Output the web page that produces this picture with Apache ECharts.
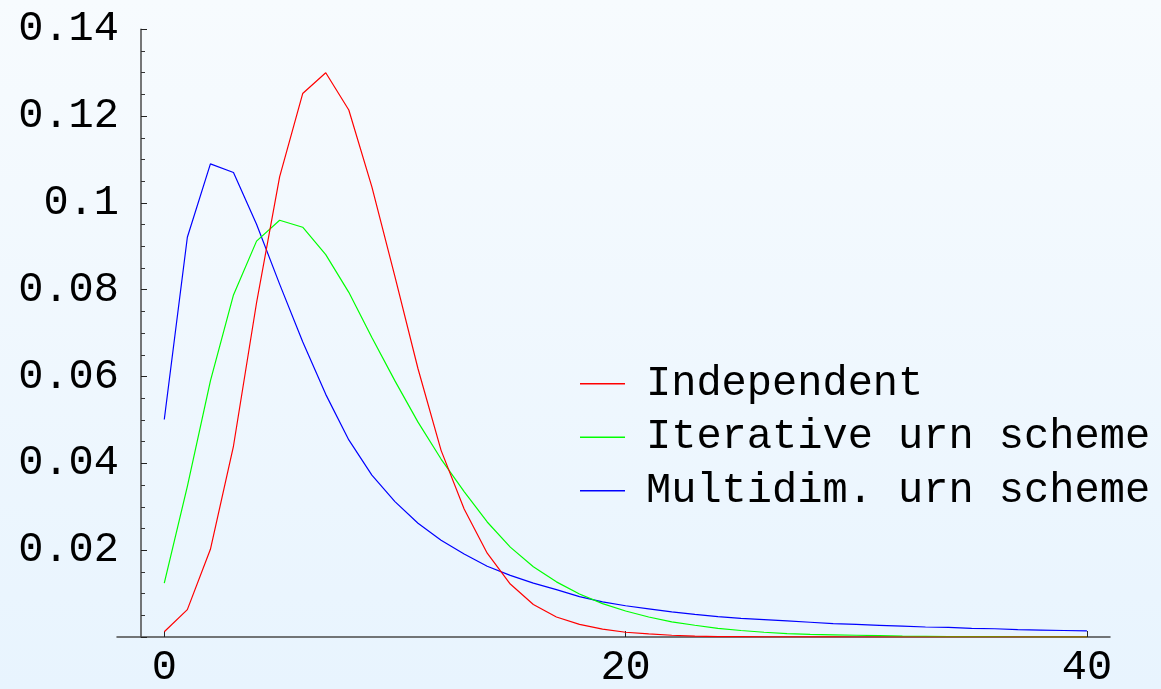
<!DOCTYPE html>
<html>
<head>
<meta charset="utf-8">
<title>Distribution comparison</title>
<script src="https://cdn.jsdelivr.net/npm/echarts@6/dist/echarts.min.js"></script>
<style>
  html, body { margin: 0; padding: 0; }
  #chart { width: 1161px; height: 689px; }
</style>
</head>
<body>
<div id="chart"></div>
<script>
// x positions 0..40
const xs = Array.from({ length: 41 }, (_, i) => i);

// Independent
const independent = [
  0.0012, 0.0063, 0.0202, 0.044, 0.077, 0.106, 0.1252, 0.130, 0.1214, 0.1037,
  0.083, 0.0618, 0.043, 0.0295, 0.0193, 0.0122, 0.0075, 0.0046, 0.0029, 0.0018,
  0.0011, 0.0007, 0.0004, 0.0002, 0.0001, 0.0001, 0.00005, 0.00003, 0.00002, 0.00001,
  0, 0, 0, 0, 0, 0, 0, 0, 0, 0, 0
];

// Iterative urn scheme
const iterative = [
  0.0124, 0.0347, 0.059, 0.0788, 0.0912, 0.0960, 0.0944, 0.0881, 0.0794, 0.069,
  0.0590, 0.0495, 0.041, 0.0335, 0.0265, 0.0207, 0.0162, 0.0127, 0.0099, 0.0077,
  0.0060, 0.0046, 0.0035, 0.0027, 0.0020, 0.0015, 0.0011, 0.0008, 0.0006, 0.0005,
  0.0004, 0.0003, 0.0002, 0.00015, 0.0001, 0.0001, 0.00008, 0.00006, 0.00005, 0.00004, 0.00003
];

// Multidim. urn scheme
const multidim = [
  0.0501, 0.0921, 0.109, 0.107, 0.0951, 0.0813, 0.068, 0.0559, 0.0454, 0.0373,
  0.0312, 0.0262, 0.0223, 0.0191, 0.0163, 0.0142, 0.0124, 0.0109, 0.0093, 0.0081,
  0.0072, 0.0065, 0.0058, 0.0052, 0.0047, 0.0043, 0.0040, 0.0037, 0.0034, 0.0031,
  0.0029, 0.0027, 0.0025, 0.0023, 0.0022, 0.0020, 0.0019, 0.0017, 0.0016, 0.0015, 0.0014
];

const seriesNames = ['Independent', 'Iterative urn scheme', 'Multidim. urn scheme'];
const seriesColors = ['#ff0000', '#00ff00', '#0000ff'];
const xTickValues = [0, 20, 40];
const yTicks = [0, 0.02, 0.04, 0.06, 0.08, 0.1, 0.12, 0.14];

const FONT = '"Courier New", "Liberation Mono", monospace';
const AXIS_COLOR = '#4a4a4a';

const pairs = arr => xs.map((x, i) => [x, arr[i]]);

const chart = echarts.init(document.getElementById('chart'), null, { renderer: 'canvas' });

chart.setOption({
  animation: false,
  backgroundColor: {
    type: 'linear', x: 0, y: 0, x2: 0, y2: 1,
    colorStops: [
      { offset: 0, color: '#f7fbfe' },
      { offset: 1, color: '#e8f4fe' }
    ]
  },
  grid: { left: 117, right: 51, top: 29.3, bottom: 46.3 },
  legend: {
    orient: 'vertical',
    left: 575,
    top: 352,
    icon: 'rect',
    itemWidth: 45,
    itemHeight: 1.3,
    itemGap: 0,
    data: seriesNames,
    textStyle: {
      fontFamily: FONT,
      fontSize: 42,
      color: '#000',
      lineHeight: 53.5,
      padding: [0, 0, 0, 16]
    }
  },
  xAxis: {
    type: 'value',
    min: -2.05,
    max: 41,
    splitLine: { show: false },
    axisLine: { onZero: true, lineStyle: { color: AXIS_COLOR, width: 1.5 } },
    axisTick: {
      show: true,
      inside: true,
      length: 6,
      customValues: xTickValues,
      lineStyle: { color: '#222', width: 1 }
    },
    axisLabel: {
      customValues: xTickValues,
      fontFamily: FONT,
      fontSize: 42,
      color: '#000',
      margin: 10
    }
  },
  yAxis: {
    type: 'value',
    min: 0,
    max: 0.14,
    interval: 0.02,
    offset: -24,
    splitLine: { show: false },
    axisLine: { show: true, onZero: false, lineStyle: { color: AXIS_COLOR, width: 1.5 } },
    axisTick: { show: true, inside: true, length: 6, lineStyle: { color: '#222', width: 1 } },
    minorTick: { show: true, splitNumber: 4, length: 4, lineStyle: { color: '#333', width: 1 } },
    axisLabel: {
      fontFamily: FONT,
      fontSize: 42,
      color: '#000',
      margin: 22,
      formatter: v => {
        const t = yTicks.find(y => Math.abs(y - v) < 1e-9);
        if (t === undefined || t === 0) return '';
        return String(+t.toFixed(2));
      }
    }
  },
  series: [independent, iterative, multidim].map((arr, i) => ({
    name: seriesNames[i],
    type: 'line',
    data: pairs(arr),
    symbol: 'none',
    color: seriesColors[i],
    lineStyle: { color: seriesColors[i], width: 1.2 },
    z: 3 - i
  }))
});
</script>
</body>
</html>
